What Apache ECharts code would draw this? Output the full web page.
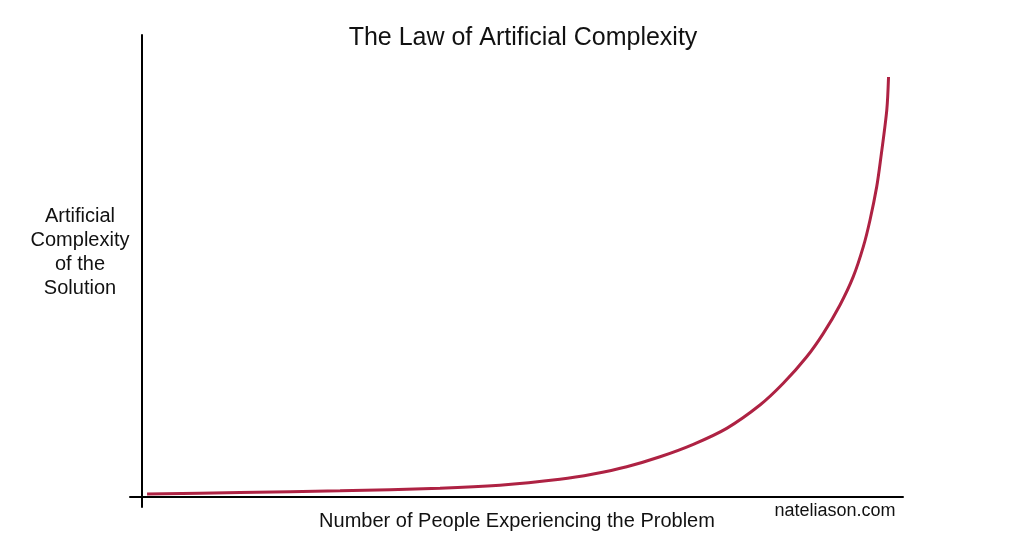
<!DOCTYPE html>
<html>
<head>
<meta charset="utf-8">
<script src="https://cdn.jsdelivr.net/npm/echarts@6/dist/echarts.min.js"></script>
<style>
html,body{margin:0;padding:0;background:#fff;}
#chart{width:1034px;height:545px;}
</style>
</head>
<body>
<div id="chart"></div>
<script>
// Data (arbitrary units, 0..100)
const peopleValues = [0.74, 12.95, 26.08, 39.21, 47.08, 54.95, 59.34, 63.72, 68.10, 72.47, 76.85, 81.22, 84.28, 87.36, 89.54, 91.73, 93.47, 94.79, 95.67, 96.55, 97.05, 97.87, 98.10];
const complexityValues = [0.61, 0.93, 1.30, 1.84, 2.49, 3.79, 4.94, 6.52, 8.68, 11.37, 14.83, 19.88, 24.58, 30.33, 35.40, 41.55, 47.67, 54.17, 59.95, 67.17, 72.93, 83.75, 90.9];
const titleText = 'The Law of Artificial Complexity';
const xAxisName = 'Number of People Experiencing the Problem';
const yAxisName = 'Artificial\nComplexity\nof the\nSolution';
const creditText = 'nateliason.com';

const FONT = '"Liberation Sans", Arial, Helvetica, sans-serif';
const chart = echarts.init(document.getElementById('chart'), null, {renderer: 'canvas'});

const seriesData = peopleValues.map((x, i) => [x, complexityValues[i]]);

chart.setOption({
  backgroundColor: '#ffffff',
  animation: false,
  grid: {left: 130, right: 131, top: 35, bottom: 38},
  xAxis: {
    type: 'value', min: -1.5, max: 100,
    axisLine: {show: true, onZero: true, lineStyle: {color: '#000', width: 2}},
    axisTick: {show: false}, axisLabel: {show: false}, splitLine: {show: false}
  },
  yAxis: {
    type: 'value', min: -2.2, max: 100,
    axisLine: {show: true, onZero: true, lineStyle: {color: '#000', width: 2}},
    axisTick: {show: false}, axisLabel: {show: false}, splitLine: {show: false}
  },
  series: [{
    type: 'line',
    data: seriesData,
    smooth: 0.3,
    showSymbol: false,
    lineStyle: {color: '#ae2243', width: 3}
  }],
  graphic: [
    {type: 'text', x: 523, y: 38, style: {text: titleText, font: '25px ' + FONT, fill: '#111', align: 'center', verticalAlign: 'middle'}},
    {type: 'text', x: 517, y: 521, style: {text: xAxisName, font: '20px ' + FONT, fill: '#111', align: 'center', verticalAlign: 'middle'}},
    {type: 'text', x: 80, y: 252, style: {text: yAxisName, font: '20px ' + FONT, lineHeight: 24, fill: '#111', align: 'center', verticalAlign: 'middle'}},
    {type: 'text', x: 835, y: 511, style: {text: creditText, font: '18px ' + FONT, fill: '#111', align: 'center', verticalAlign: 'middle'}}
  ]
});
</script>
</body>
</html>
